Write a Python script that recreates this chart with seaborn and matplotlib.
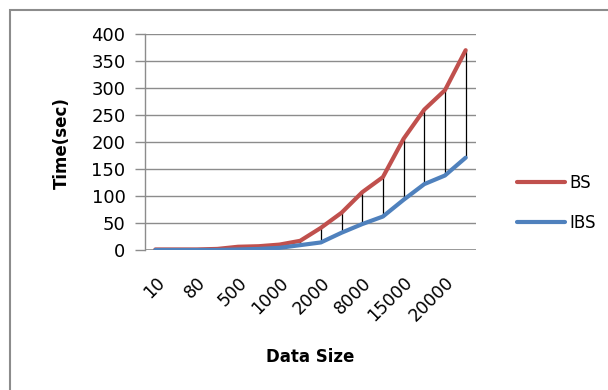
import matplotlib
matplotlib.use("Agg")
import matplotlib.pyplot as plt
import matplotlib.patches as mpatches
import seaborn as sns
import pandas as pd
import numpy as np

# Data (16 categories, every other one labelled on the axis)
tick_labels = ["10", "80", "500", "1000", "2000", "8000", "15000", "20000"]
bs = [1, 1, 1, 2, 6, 7, 10, 17, 41, 69, 107, 135, 206, 260, 296, 370]
ibs = [0, 0, 0, 0, 1, 2, 4, 9, 14, 32, 48, 62, 93, 122, 138, 171]
series_names = ["BS", "IBS"]
colors = ["#C0504D", "#4F81BD"]

idx = list(range(len(bs)))
df = pd.DataFrame({
    "x": idx + idx,
    "Time": bs + ibs,
    "Series": [series_names[0]] * len(bs) + [series_names[1]] * len(ibs),
})

sns.set_style("white")
plt.rcParams["font.family"] = ["DejaVu Sans"]
plt.rcParams["text.color"] = "black"
plt.rcParams["xtick.color"] = "black"
plt.rcParams["ytick.color"] = "black"
plt.rcParams["axes.labelcolor"] = "black"

fig = plt.figure(figsize=(6.08, 3.9), dpi=100)
ax = fig.add_axes([145 / 608, 1 - 250 / 390, (476 - 145) / 608, (250 - 34) / 390])

# high-low lines
ax.vlines(idx, ibs, bs, color="black", linewidth=0.9, zorder=2)

sns.lineplot(data=df, x="x", y="Time", hue="Series", palette=colors,
             linewidth=3, ax=ax, legend=False, zorder=3)

ax.set_xlim(-0.5, len(bs) - 0.5)
ax.set_ylim(0, 400)
ax.set_yticks(range(0, 401, 50))
ax.yaxis.grid(True, color="#8c8c8c", linewidth=1)
ax.xaxis.grid(False)
for s in ["top", "right", "bottom"]:
    ax.spines[s].set_visible(False)
ax.spines["left"].set_color("#8c8c8c")
ax.spines["left"].set_linewidth(1)
ax.axhline(0, color="#8c8c8c", linewidth=1.2, zorder=1)

ax.set_xticks(idx[::2])
ax.set_xticklabels(tick_labels, rotation=45, ha="right", va="top",
                   rotation_mode="anchor", fontsize=12.5)
ax.tick_params(axis="x", length=0, pad=17, labelcolor="black")
ax.tick_params(axis="y", length=7, width=1, color="#8c8c8c", labelsize=13, pad=7,
               left=True, direction="out", labelcolor="black")

ax.set_xlabel("")
ax.set_ylabel("")
fig.text(310 / 608, 1 - 357 / 390, "Data Size", fontsize=12, fontweight="bold",
         ha="center", va="center", color="black")
fig.text(62 / 608, 1 - 143 / 390, "Time(sec)", fontsize=12, fontweight="bold",
         ha="center", va="center", rotation=90, color="black")

handles = [plt.Line2D([], [], color=c, linewidth=3) for c in colors]
leg = fig.legend(handles, series_names, loc="center left",
                 bbox_to_anchor=(517 / 608, 1 - 203 / 390), frameon=False,
                 fontsize=12, handlelength=2.9, handletextpad=0.25, labelspacing=1.35,
                 borderaxespad=0, borderpad=0)
for t in leg.get_texts():
    t.set_color("black")

# outer chart border
rect = mpatches.Rectangle((10 / 608, -0.1), 1.2, (380 / 390) + 0.1,
                          transform=fig.transFigure, fill=False,
                          edgecolor="#8c8c8c", linewidth=1.5, clip_on=False)
fig.patches.append(rect)

fig.savefig("out.png", dpi=100)
